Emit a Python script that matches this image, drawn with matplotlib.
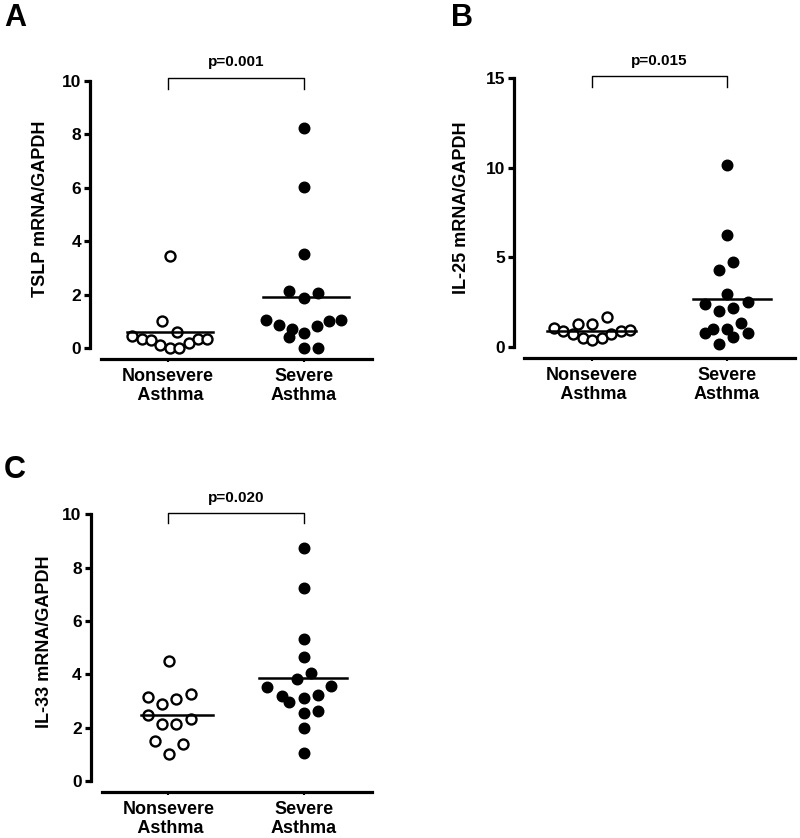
import matplotlib
matplotlib.use("Agg")
import matplotlib.pyplot as plt
import numpy as np

plt.rcParams['font.family'] = ['Liberation Sans', 'DejaVu Sans']

categories = ["Nonsevere\n Asthma", "Severe\nAsthma"]

# Panel A: TSLP
a_nonsevere = [3.45, 1.0, 0.6, 0.44, 0.34, 0.29, 0.1, 0.0, 0.0, 0.19, 0.34, 0.34]
a_severe = [8.23, 6.05, 3.52, 2.12, 2.08, 1.87, 1.06, 0.87, 0.72, 0.41, 0.56, 0.84, 1.02, 1.06, 0.0, 0.0]
a_ns_dx = [0.012, -0.042, 0.069, -0.263, -0.189, -0.123, -0.057, 0.012, 0.081, 0.152, 0.221, 0.29]
a_sv_dx = [0, 0, 0, -0.108, 0.106, 0, -0.28, -0.182, -0.091, -0.108, 0, 0.093, 0.18, 0.27, 0, 0.106]

# Panel B: IL-25
b_nonsevere = [1.64, 1.27, 1.27, 1.02, 0.88, 0.69, 0.47, 0.37, 0.47, 0.69, 0.88, 0.93]
b_severe = [10.15, 6.24, 4.75, 4.29, 2.94, 2.38, 2.48, 2.01, 2.14, 1.34, 0.97, 0.75, 0.97, 0.78, 0.52, 0.13]
b_ns_dx = [0.111, -0.099, 0.0, -0.279, -0.21, -0.141, -0.067, 0.005, 0.074, 0.143, 0.215, 0.284]
b_sv_dx = [0, 0, 0.049, -0.054, 0, -0.16, 0.156, -0.054, 0.049, 0.104, -0.104, -0.16, 0, 0.156, 0.049, -0.054]

# Panel C: IL-33
c_nonsevere = [4.51, 3.16, 2.89, 3.06, 3.25, 2.47, 2.14, 2.13, 2.31, 1.50, 1.38, 1.01]
c_severe = [8.73, 7.25, 5.31, 4.64, 4.06, 3.84, 3.51, 3.56, 3.19, 2.97, 3.12, 3.22, 2.54, 2.64, 2.0, 1.04]
c_ns_dx = [0.007, -0.15, -0.046, 0.057, 0.165, -0.15, -0.046, 0.057, 0.165, -0.098, 0.11, 0.007]
c_sv_dx = [0, 0, 0, 0, 0.05, -0.054, -0.27, 0.2, -0.165, -0.11, 0, 0.1, 0, 0.1, 0, 0]

p_values = ["p=0.001", "p=0.015", "p=0.020"]
y_labels = ["TSLP mRNA/GAPDH", "IL-25 mRNA/GAPDH", "IL-33 mRNA/GAPDH"]
panel_letters = ["A", "B", "C"]

fig = plt.figure(figsize=(8.0, 8.38), dpi=100)

panels = [
    dict(rect=[0.1128, 0.5716, 0.3523, 0.3317], ns=a_nonsevere, sv=a_severe, nsdx=a_ns_dx, svdx=a_sv_dx,
         ylim=(-0.41, 10), yticks=[0, 2, 4, 6, 8, 10], xlim=(-0.572, 1.5), xb=(-0.49, 1.5),
         br=(10.11, 9.70), pt=10.45, lab=(-0.146, 0.54), mean_ext=[(-0.3, 0.33), (-0.3, 0.33)],
         letter=(0.005, 0.996)),
    dict(rect=[0.6429, 0.5732, 0.3508, 0.3335], ns=b_nonsevere, sv=b_severe, nsdx=b_ns_dx, svdx=b_sv_dx,
         ylim=(-0.61, 15), yticks=[0, 5, 10, 15], xlim=(-0.573, 1.505), xb=(-0.50, 1.505),
         br=(15.12, 14.49), pt=15.55, lab=(-0.158, 0.537), mean_ext=[(-0.33, 0.33), (-0.25, 0.33)],
         letter=(0.564, 0.996)),
    dict(rect=[0.1134, 0.0553, 0.3513, 0.331], ns=c_nonsevere, sv=c_severe, nsdx=c_ns_dx, svdx=c_sv_dx,
         ylim=(-0.40, 10), yticks=[0, 2, 4, 6, 8, 10], xlim=(-0.572, 1.499), xb=(-0.49, 1.499),
         br=(10.03, 9.66), pt=10.33, lab=(-0.133, 0.54), mean_ext=[(-0.2, 0.33), (-0.33, 0.32)],
         letter=(0.005, 0.4565)),
]

for i, p in enumerate(panels):
    ax = fig.add_axes(p["rect"])
    ns = np.array(p["ns"]); sv = np.array(p["sv"])
    ax.plot(0 + np.array(p["nsdx"]), ns, 'o', ms=7.2, mfc='white', mec='black', mew=1.7,
            linestyle='none', clip_on=False, zorder=3)
    ax.plot(1 + np.array(p["svdx"]), sv, 'o', ms=7.6, mfc='black', mec='black', mew=1.0,
            linestyle='none', clip_on=False, zorder=3)
    for k, vals in enumerate([ns, sv]):
        e0, e1 = p["mean_ext"][k]
        ax.plot([k + e0, k + e1], [vals.mean(), vals.mean()], color='black', lw=1.8, zorder=4)

    ax.set_xlim(*p["xlim"])
    ax.set_ylim(*p["ylim"])
    ax.set_xticks([0, 1])
    ax.set_xticklabels(categories, fontsize=13, fontweight='bold', linespacing=1.15)
    ax.set_yticks(p["yticks"])
    ax.set_yticklabels([str(t) for t in p["yticks"]], fontsize=12.5, fontweight='bold')
    for s in ['top', 'right']:
        ax.spines[s].set_visible(False)
    ax.spines['left'].set_bounds(0, p["yticks"][-1])
    ax.spines['bottom'].set_bounds(*p["xb"])
    ax.spines['left'].set_linewidth(2.3)
    ax.spines['bottom'].set_linewidth(2.3)
    ax.tick_params(axis='y', direction='out', length=4.5, width=2.3, pad=2)
    ax.tick_params(axis='x', direction='out', length=2.5, width=1.5, pad=4)
    ax.set_ylabel(y_labels[i], fontsize=13, fontweight='bold')
    ax.yaxis.set_label_coords(*p["lab"])

    top, leg = p["br"]
    ax.plot([0, 0, 1, 1], [leg, top, top, leg], color='black', lw=1.0, clip_on=False)
    ax.text(0.5, p["pt"], p_values[i], ha='center', va='bottom', fontsize=11, fontweight='bold')

    fig.text(p["letter"][0], p["letter"][1], panel_letters[i], fontsize=22, fontweight='bold',
             ha='left', va='top')

fig.savefig("out.png", dpi=100)
